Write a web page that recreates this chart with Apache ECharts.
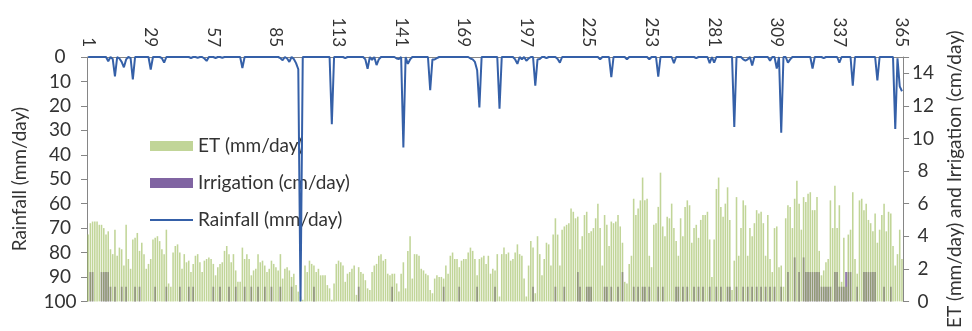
<!DOCTYPE html>
<html>
<head>
<meta charset="utf-8">
<script src="https://cdn.jsdelivr.net/npm/echarts@6/dist/echarts.min.js"></script>
<style>
  html, body { margin: 0; padding: 0; background: #fff; }
  #chart { width: 972px; height: 331px; }
</style>
</head>
<body>
<div id="chart"></div>
<script>
// ET (mm/day), one value per day
const etDays1to90 = [
  4.1, 4.8, 4.9, 4.9, 4.9, 4.7, 4.7, 4.5, 4.1, 4.3,
  3.2, 2.9, 4.4, 2.8, 3.3, 3.2, 2.2, 4.7, 2.6, 2.0,
  3.8, 3.9, 4.2, 3.1, 3.6, 2.9, 2.0, 2.3, 2.6, 3.8,
  3.9, 4.0, 3.7, 3.2, 2.9, 4.4, 1.1, 0.9, 3.0, 3.4,
  3.5, 3.0, 2.0, 2.9, 2.4, 2.5, 1.8, 2.3, 2.8, 2.9,
  2.4, 1.8, 2.5, 2.6, 2.7, 2.6, 2.3, 1.6, 2.1, 2.3,
  2.4, 3.1, 3.4, 2.9, 2.4, 2.9, 1.9, 1.2, 1.2, 3.3,
  2.6, 2.9, 2.6, 1.6, 1.9, 2.0, 2.9, 2.4, 2.5, 2.2,
  1.8, 2.0, 2.5, 2.3, 2.1, 1.9, 2.9, 1.4, 2.0, 2.1
];
const etDays91to180 = [
  1.9, 1.5, 1.7, 1.0, 0.6, 0.3, 0.1, 2.2, 1.8, 2.5,
  2.3, 2.2, 1.8, 2.0, 1.6, 1.6, 1.6, 1.0, 0.8, 0.1,
  1.1, 2.3, 2.5, 2.4, 2.2, 1.2, 1.7, 1.8, 2.0, 2.2,
  0.4, 2.1, 1.8, 1.7, 1.3, 0.8, 0.7, 1.8, 2.2, 2.3,
  2.8, 2.9, 2.5, 2.6, 1.7, 1.6, 1.7, 1.7, 1.1, 0.6,
  1.7, 2.4, 0.8, 3.1, 4.0, 1.4, 2.9, 2.9, 2.8, 2.0,
  1.9, 1.7, 1.6, 0.7, 0.5, 1.4, 1.6, 1.5, 1.5, 1.4,
  2.2, 1.7, 2.8, 3.0, 2.6, 2.6, 2.1, 2.5, 2.6, 2.6,
  3.0, 3.3, 3.1, 2.6, 1.6, 2.6, 2.7, 2.8, 2.3, 2.8
];
const etDays181to272 = [
  1.7, 2.0, 1.9, 2.9, 0.3, 2.9, 3.3, 2.9, 3.0, 2.5,
  2.6, 3.0, 3.5, 2.9, 2.8, 1.4, 0.3, 2.2, 3.7, 3.3,
  0.5, 4.0, 2.9, 1.6, 2.6, 3.6, 3.5, 2.2, 4.1, 5.1,
  4.1, 2.2, 4.4, 4.6, 4.7, 4.8, 5.7, 5.5, 5.1, 5.2,
  3.2, 4.0, 5.3, 5.5, 4.2, 4.3, 4.5, 5.1, 6.0, 4.5,
  2.2, 5.3, 4.7, 3.4, 4.9, 4.8, 4.9, 5.3, 4.6, 3.6,
  1.2, 1.1, 2.3, 2.8, 6.3, 5.3, 5.7, 6.2, 7.6, 6.2,
  6.3, 2.8, 2.1, 4.7, 4.8, 5.8, 7.9, 4.6, 4.0, 5.2,
  5.1, 6.0, 4.5, 3.7, 2.8, 5.1, 4.0, 5.8, 6.2, 5.9,
  3.6, 4.5
];
const etDays273to365 = [
  4.7, 3.9, 5.0, 5.3, 5.3, 5.5, 3.8, 1.5, 3.8, 6.9,
  7.6, 5.8, 5.2, 6.0, 7.0, 5.0, 0.7, 2.5, 6.4, 2.8,
  4.5, 6.2, 5.9, 2.8, 4.5, 4.0, 4.8, 5.6, 5.4, 5.5,
  4.8, 2.8, 5.3, 2.6, 1.8, 4.5, 4.6, 2.1, 2.2, 0.9,
  5.1, 5.9, 5.8, 4.5, 6.3, 7.4, 6.0, 4.4, 6.4, 6.1,
  6.6, 6.7, 5.6, 5.6, 6.4, 3.1, 1.6, 1.9, 2.4, 2.6,
  6.2, 4.5, 7.1, 4.5, 5.9, 1.2, 3.9, 0.9, 4.1, 4.4,
  6.7, 2.6, 1.7, 6.2, 6.3, 5.6, 6.0, 5.0, 4.8, 4.3,
  5.4, 3.6, 4.4, 5.3, 6.0, 4.3, 5.5, 5.4, 3.4, 2.2,
  2.9, 4.4, 2.6
];

// irrigation events [day, cm/day]
const irrigationEvents = [
  [2, 1.8], [3, 1.8], [7, 1.8], [8, 1.8], [9, 1.8], [10, 1.8],
  [11, 0.9], [13, 0.9], [16, 0.9], [18, 0.9], [22, 0.9], [24, 0.9], [31, 0.9], [36, 0.9],
  [42, 0.9], [46, 0.9], [48, 0.9], [57, 0.9], [60, 0.9], [64, 0.9], [67, 0.9], [71, 0.9],
  [74, 0.9], [77, 0.9], [80, 0.9], [83, 0.9], [87, 0.9], [92, 0.9], [102, 0.9], [122, 0.9],
  [137, 0.9], [160, 0.9], [167, 0.9], [175, 0.9], [183, 0.9], [200, 0.9], [210, 0.9], [214, 0.9],
  [220, 1.8], [221, 0.9], [224, 0.9], [225, 0.9], [226, 0.9], [232, 0.9], [233, 0.9], [235, 0.9],
  [238, 0.9], [240, 1.8], [245, 0.9], [247, 0.9], [249, 0.9], [250, 0.9], [252, 0.9], [256, 0.9],
  [258, 0.9], [264, 0.9], [265, 0.9], [267, 0.9], [269, 0.9], [272, 0.9], [274, 0.9], [276, 0.9],
  [279, 0.9], [282, 0.9], [284, 0.9], [287, 0.9], [288, 0.9], [291, 0.9], [294, 0.9], [296, 0.9],
  [298, 0.9], [300, 0.9], [302, 0.9], [304, 0.9], [306, 0.9], [308, 0.9], [311, 0.9],
  [314, 1.8], [317, 2.7], [319, 1.8], [321, 2.7], [322, 1.8], [323, 1.8], [324, 1.8], [325, 1.8],
  [326, 1.8], [327, 1.8], [328, 1.8], [329, 0.9], [330, 0.9], [331, 0.9], [332, 0.9], [333, 0.9],
  [335, 1.8], [336, 1.8], [337, 0.9], [338, 0.9], [339, 0.9], [340, 1.8], [341, 1.8], [342, 1.8],
  [345, 0.9], [348, 1.8], [349, 1.8], [350, 1.8], [351, 1.8], [352, 1.8], [353, 1.8],
  [357, 0.9], [360, 0.9]
];

// rain events [day, mm/day]; all other days are dry
const rainEvents = [
  [10, 1.7], [12, 0.8], [13, 7.9], [15, 0.6], [16, 2.0], [17, 4.2], [18, 1.0], [20, 0.5], [21, 9.2],
  [29, 5.1], [34, 0.5], [35, 2.3], [47, 0.4], [50, 0.3], [53, 0.6], [54, 1.6], [58, 0.4], [61, 0.3],
  [70, 4.5], [87, 0.5], [88, 1.3], [90, 0.6], [91, 2.0], [93, 0.8], [94, 2.5], [95, 5.0], [96, 100],
  [110, 27.5], [116, 0.5], [125, 1.0], [126, 4.8], [128, 1.2], [130, 3.3], [131, 1.0], [139, 0.6],
  [140, 0.8], [142, 37], [144, 2.8], [145, 1.0], [154, 13.6], [155, 1.0], [156, 1.0], [157, 0.5],
  [172, 0.6], [173, 1.0], [174, 2.0], [175, 5.4], [176, 20.6], [185, 21.2], [192, 1.0], [193, 2.8],
  [195, 1.0], [197, 1.5], [198, 0.6], [201, 11.7], [202, 1.0], [203, 0.8], [206, 0.5], [211, 0.8],
  [212, 2.3], [230, 1.0], [235, 8.2], [242, 1.0], [252, 1.0], [256, 8.0], [263, 2.5], [273, 0.5],
  [279, 2.5], [281, 2.3], [290, 28.6], [294, 1.0], [295, 1.5], [296, 1.0], [298, 3.5], [306, 1.5],
  [309, 4.7], [311, 31], [314, 2.3], [315, 1.0], [325, 4.7], [330, 0.5], [337, 2.3], [343, 11.7],
  [354, 9.6], [362, 29.4], [363, 0.5], [364, 12], [365, 14]
];

const dayLabels = [1, 29, 57, 85, 113, 141, 169, 197, 225, 253, 281, 309, 337, 365];

const days = [];
for (let d = 1; d <= 365; d++) days.push(String(d));

const et = etDays1to90.concat(etDays91to180, etDays181to272, etDays273to365);
const irrigation = days.map(() => 0);
irrigationEvents.forEach(([d, v]) => { irrigation[d - 1] = v; });
const rainfall = days.map(() => 0);
rainEvents.forEach(([d, v]) => { rainfall[d - 1] = v; });

const FONT = 'Lato, sans-serif';
const TXT = '#333';
const AXIS = '#868686';
const RAIN = '#3560a8';

const chart = echarts.init(document.getElementById('chart'));

chart.setOption({
  animation: false,
  backgroundColor: '#fff',
  textStyle: { fontFamily: FONT },
  grid: { left: 87, right: 60, top: 57, bottom: 9 },
  legend: {
    orient: 'vertical',
    left: 145,
    top: 131,
    itemWidth: 43,
    itemHeight: 10,
    itemGap: 17,
    textStyle: { fontSize: 19, color: TXT, fontFamily: FONT, lineHeight: 20 },
    data: [
      { name: 'ET (mm/day)', icon: 'rect' },
      { name: 'Irrigation (cm/day)', icon: 'rect' },
      // plain line, no marker
      { name: 'Rainfall (mm/day)', icon: 'path://M0,0 L43,0 L43,2 L0,2 Z', itemStyle: { color: RAIN } }
    ]
  },
  xAxis: {
    type: 'category',
    position: 'top',
    data: days,
    boundaryGap: true,
    axisLine: { onZero: false, lineStyle: { color: AXIS } },
    axisTick: {
      alignWithLabel: true,
      length: 5,
      interval: (i) => i % 14 === 0,
      lineStyle: { color: AXIS }
    },
    axisLabel: {
      rotate: 90,
      margin: 10,
      fontSize: 17,
      color: TXT,
      interval: (i, v) => dayLabels.includes(Number(v))
    },
    splitLine: { show: false }
  },
  yAxis: [
    {
      type: 'value',
      inverse: true,
      min: 0,
      max: 100,
      interval: 10,
      name: 'Rainfall (mm/day)',
      nameLocation: 'middle',
      nameGap: 58,
      nameRotate: 90,
      nameTextStyle: { fontSize: 19, color: TXT },
      axisLine: { show: true, lineStyle: { color: AXIS } },
      axisTick: { show: true, length: 6, lineStyle: { color: AXIS } },
      axisLabel: { fontSize: 19, color: TXT, align: 'center', margin: 27 },
      splitLine: { show: false }
    },
    {
      type: 'value',
      position: 'right',
      min: 0,
      max: 15,
      interval: 2,
      name: 'ET (mm/day) and Irrigation (cm/day)',
      nameLocation: 'middle',
      nameGap: 40,
      nameRotate: 90,
      nameTextStyle: { fontSize: 19, color: TXT },
      axisLine: { show: true, lineStyle: { color: AXIS } },
      axisTick: { show: true, length: 6, lineStyle: { color: AXIS } },
      axisLabel: {
        fontSize: 19,
        color: TXT,
        align: 'center',
        margin: 20,
        formatter: (v) => (v > 14 ? '' : v)
      },
      splitLine: { show: false }
    }
  ],
  series: [
    {
      name: 'Irrigation (cm/day)',
      type: 'bar',
      yAxisIndex: 1,
      data: irrigation,
      barWidth: '70%',
      barGap: '-100%',
      itemStyle: { color: '#8064a2' },
      z: 2
    },
    {
      name: 'ET (mm/day)',
      type: 'bar',
      yAxisIndex: 1,
      data: et,
      barWidth: '70%',
      barGap: '-100%',
      itemStyle: { color: '#9bbb59', opacity: 0.62 },
      z: 3
    },
    {
      name: 'Rainfall (mm/day)',
      type: 'line',
      yAxisIndex: 0,
      data: rainfall,
      symbol: 'none',
      lineStyle: { color: RAIN, width: 2 },
      itemStyle: { color: RAIN },
      z: 5
    }
  ]
});
</script>
</body>
</html>
